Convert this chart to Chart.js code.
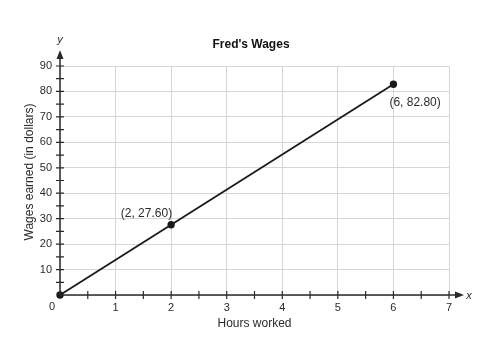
<!DOCTYPE html>
<html>
<head>
<meta charset="utf-8">
<script src="https://cdn.jsdelivr.net/npm/chart.js@4.4.0/dist/chart.umd.min.js"></script>
<style>
  html, body { margin: 0; padding: 0; background: #fff; }
  #wrap { width: 490px; height: 338px; }
</style>
</head>
<body>
<div id="wrap"><canvas id="myChart"></canvas></div>
<script>
// data
const hours = [0, 2, 6];
const wages = [0, 27.6, 82.8];
const labelled = [false, true, true];
const xTicks = [0, 1, 2, 3, 4, 5, 6, 7];
const yTicks = [0, 10, 20, 30, 40, 50, 60, 70, 80, 90];

const chartTitle = "Fred's Wages";
const xTitle = "Hours worked";
const yTitle = "Wages earned (in dollars)";

const FONT = "'Liberation Sans', Arial, sans-serif";
const INK = '#2b2b2b';

let points = [];
for (let i = 0; i < hours.length; i++) {
    points.push({ x: hours[i], y: wages[i] });
}

// axes with arrows, minor ticks, point labels and titles
const decor = {
    id: 'decor',
    afterDraw(chart) {
        const ctx = chart.ctx;
        const xs = chart.scales.x;
        const ys = chart.scales.y;
        const ca = chart.chartArea;
        const x0 = xs.getPixelForValue(0);
        const y0 = ys.getPixelForValue(0);

        ctx.save();
        ctx.strokeStyle = INK;
        ctx.fillStyle = INK;
        ctx.lineWidth = 1.5;

        // x axis
        ctx.beginPath();
        ctx.moveTo(x0, y0);
        ctx.lineTo(ca.right + 10, y0);
        ctx.stroke();
        ctx.beginPath();
        ctx.moveTo(ca.right + 15, y0);
        ctx.lineTo(ca.right + 6, y0 - 3.5);
        ctx.lineTo(ca.right + 6, y0 + 3.5);
        ctx.closePath();
        ctx.fill();

        // y axis
        ctx.beginPath();
        ctx.moveTo(x0, y0);
        ctx.lineTo(x0, ca.top - 10);
        ctx.stroke();
        ctx.beginPath();
        ctx.moveTo(x0, ca.top - 16);
        ctx.lineTo(x0 - 3.5, ca.top - 7);
        ctx.lineTo(x0 + 3.5, ca.top - 7);
        ctx.closePath();
        ctx.fill();

        // ticks
        ctx.lineWidth = 1.2;
        ctx.beginPath();
        for (let v = 0.5; v <= 7; v += 0.5) {
            const px = xs.getPixelForValue(v);
            ctx.moveTo(px, y0 - 4);
            ctx.lineTo(px, y0 + 4);
        }
        for (let v = 5; v <= 90; v += 5) {
            const py = ys.getPixelForValue(v);
            ctx.moveTo(x0 - 4, py);
            ctx.lineTo(x0 + 4, py);
        }
        ctx.stroke();

        // axis letters
        ctx.font = 'italic 11px ' + FONT;
        ctx.textAlign = 'center';
        ctx.textBaseline = 'middle';
        ctx.fillText('y', x0, ca.top - 26);
        ctx.fillText('x', ca.right + 20, y0 + 1);

        // origin label
        ctx.font = '11px ' + FONT;
        ctx.fillText('0', x0 - 8, y0 + 12);

        // title
        ctx.font = 'bold 12px ' + FONT;
        ctx.fillStyle = '#111';
        ctx.fillText(chartTitle, 251, ca.top - 21);

        // y title
        ctx.font = '12px ' + FONT;
        ctx.fillStyle = INK;
        ctx.save();
        ctx.translate(30, 172);
        ctx.rotate(-Math.PI / 2);
        ctx.fillText(yTitle, 0, 0);
        ctx.restore();

        // point labels
        ctx.font = '12px ' + FONT;
        for (let i = 0; i < hours.length; i++) {
            if (!labelled[i]) continue;
            const px = xs.getPixelForValue(hours[i]);
            const py = ys.getPixelForValue(wages[i]);
            const txt = '(' + hours[i] + ', ' + wages[i].toFixed(2) + ')';
            if (i === hours.length - 1) {
                ctx.textAlign = 'left';
                ctx.fillText(txt, px - 4, py + 18);
            } else {
                ctx.textAlign = 'right';
                ctx.fillText(txt, px + 1, py - 11);
            }
        }
        ctx.restore();
    }
};

const config = {
    type: 'scatter',
    data: {
        datasets: [{
            data: points,
            showLine: true,
            borderColor: '#1a1a1a',
            backgroundColor: '#1a1a1a',
            borderWidth: 1.8,
            pointRadius: 2.8,
            pointHoverRadius: 2.8,
            clip: false
        }]
    },
    options: {
        responsive: true,
        maintainAspectRatio: false,
        animation: false,
        events: [],
        layout: { padding: { top: 66, right: 41, bottom: 7, left: 0 } },
        plugins: {
            legend: { display: false },
            title: { display: false },
            tooltip: { enabled: false }
        },
        scales: {
            x: {
                type: 'linear',
                min: 0,
                max: 7,
                afterBuildTicks(scale) {
                    scale.ticks = xTicks.map(v => ({ value: v }));
                },
                afterFit(scale) { scale.height = 36; },
                grid: { color: '#d6d6d6', lineWidth: 1, drawTicks: false },
                border: { display: false },
                ticks: {
                    padding: 6,
                    color: INK,
                    font: { family: FONT, size: 11 },
                    callback: v => (v === 0 ? '' : v)
                },
                title: {
                    display: true,
                    text: xTitle,
                    color: INK,
                    font: { family: FONT, size: 12 },
                    padding: 0
                }
            },
            y: {
                type: 'linear',
                min: 0,
                max: 90,
                afterBuildTicks(scale) {
                    scale.ticks = yTicks.map(v => ({ value: v }));
                },
                afterFit(scale) { scale.width = 60; },
                grid: { color: '#d6d6d6', lineWidth: 1, drawTicks: false },
                border: { display: false },
                ticks: {
                    padding: 8,
                    color: INK,
                    font: { family: FONT, size: 11 },
                    callback: v => (v === 0 ? '' : v)
                }
            }
        }
    },
    plugins: [decor]
};

const myChart = new Chart(document.getElementById('myChart'), config);
</script>
</body>
</html>
